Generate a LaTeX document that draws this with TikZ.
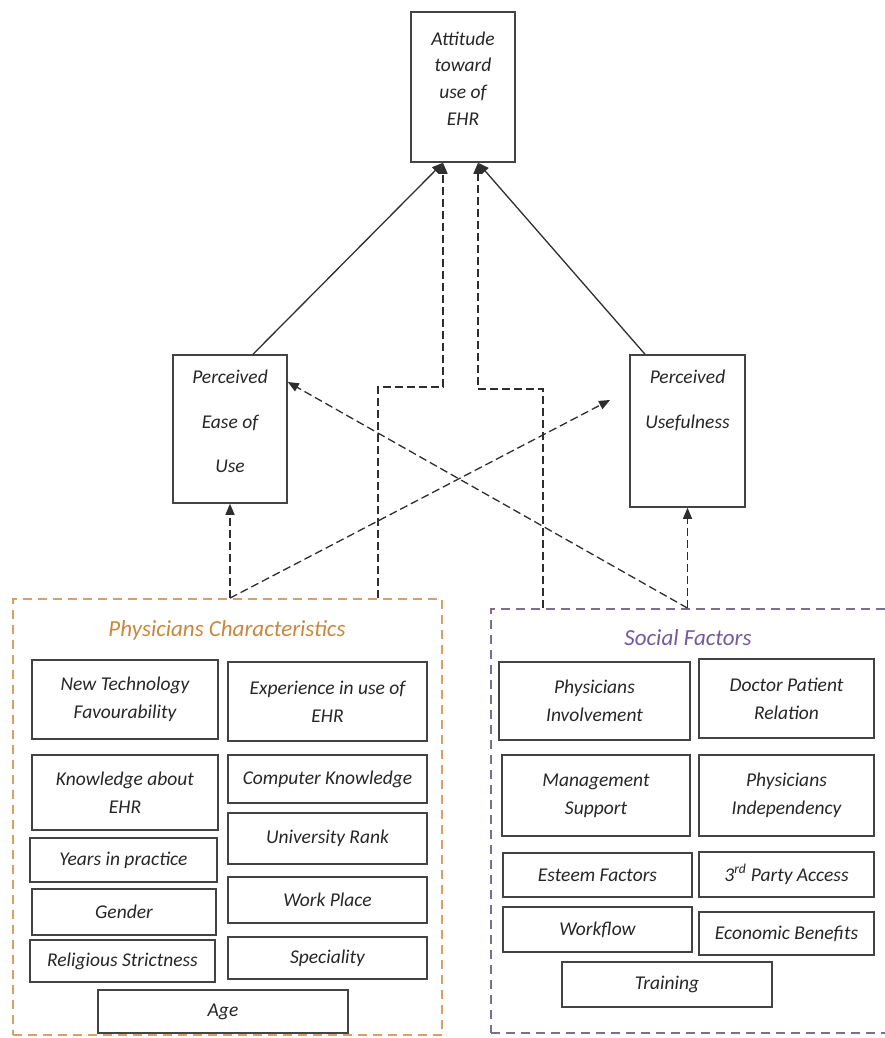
\documentclass[tikz,border=0pt]{standalone}
\usepackage{fontspec}
\setmainfont{Carlito}
\usetikzlibrary{arrows.meta,calc}
\definecolor{frame}{HTML}{434343}
\definecolor{conn}{HTML}{2E2E2E}
\definecolor{boxtxt}{HTML}{262626}
\definecolor{orangeline}{HTML}{D9A062}
\definecolor{orangetxt}{HTML}{C8873E}
\definecolor{purpleline}{HTML}{7C6E92}
\definecolor{purpletxt}{HTML}{76589C}

\begin{document}
\begin{tikzpicture}[x=1pt,y=-1pt,
  sz/.style 2 args={minimum width=#1pt, minimum height=#2pt},
  box/.style={draw=frame, line width=1.5pt, rectangle, inner sep=2pt,
    align=center, text=boxtxt, font=\fontsize{19.5}{28}\selectfont\itshape},
  group/.style={draw=#1, line width=1.8pt, dash pattern=on 9pt off 6pt,
    rectangle, inner sep=0pt},
  title/.style={font=\fontsize{23}{28}\selectfont\itshape, inner sep=0pt},
  dconn/.style={draw=conn, line width=1.3pt, dash pattern=on 8pt off 4pt,
    -{Triangle[length=11pt,width=9pt]}},
  sconn/.style={draw=conn, line width=1.3pt, -{Triangle[length=11pt,width=9pt]}}
]
\useasboundingbox (0,0) rectangle (885,1038);

% model constructs
\node[box, sz={104}{150}, font=\fontsize{19.5}{26.7}\selectfont\itshape,
  text depth=17pt] (att) at (463,87) {Attitude\\toward\\use of\\EHR};
\node[box, sz={114}{148}, font=\fontsize{19.5}{44.5}\selectfont\itshape,
  text depth=15pt] (peou) at (230,429) {Perceived\\Ease of\\Use};
\node[box, sz={115}{152}, font=\fontsize{19.5}{45}\selectfont\itshape,
  text depth=63pt] (pu) at (687.5,431) {Perceived\\Usefulness};

% factor groups
\node[group=orangeline, sz={429}{436}] (phys) at (227.5,817) {};
\node[group=purpleline, sz={420}{424}] (soc) at (701,821) {};
\node[title, text=orangetxt] (physT) at (227,630) {Physicians Characteristics};
\node[title, text=purpletxt] (socT) at (688,638) {Social Factors};

% physicians characteristics
\node[box, sz={186}{79}] (ntf) at (125,699.5) {New Technology\\Favourability};
\node[box, sz={199}{79}] (exp) at (327.5,701.5) {Experience in use of\\EHR};
\node[box, sz={186}{75}] (kae) at (125,792.5) {Knowledge about\\EHR};
\node[box, sz={199}{48}] (ck) at (327.5,779) {Computer Knowledge};
\node[box, sz={199}{51}] (ur) at (327.5,838.5) {University Rank};
\node[box, sz={187}{44}] (yip) at (123.5,860) {Years in practice};
\node[box, sz={184}{46}] (gen) at (124,912) {Gender};
\node[box, sz={199}{46}] (wp) at (327.5,900) {Work Place};
\node[box, sz={185}{42}] (rs) at (122.5,961) {Religious Strictness};
\node[box, sz={199}{42}] (spc) at (327.5,958) {Speciality};
\node[box, sz={250}{43}] (age) at (223,1011.5) {Age};

% social factors
\node[box, sz={191}{78}] (pinv) at (594.5,701) {Physicians\\Involvement};
\node[box, sz={175}{79}] (dpr) at (786.5,698.5) {Doctor Patient\\Relation};
\node[box, sz={188}{81}] (ms) at (596,795.5) {Management\\Support};
\node[box, sz={175}{81}] (pind) at (786.5,795.5) {Physicians\\Independency};
\node[box, sz={189}{44}] (ef) at (597.5,875) {Esteem Factors};
\node[box, sz={175}{45}] (tpa) at (786.5,874.5) {3\textsuperscript{rd} Party Access};
\node[box, sz={189}{45}] (wf) at (597.5,929.5) {Workflow};
\node[box, sz={175}{43}] (eb) at (786.5,933.5) {Economic Benefits};
\node[box, sz={210}{45}] (tr) at (667,984.5) {Training};

% connection points
\coordinate (pA) at (phys.north -| peou.south);
\coordinate (sA) at (soc.north -| pu.south);
\coordinate (pB) at (phys.north -| 378,0);
\coordinate (sB) at (soc.north -| 543,0);
\coordinate (pBend) at (443,387);
\coordinate (sBend) at (478,389);
\coordinate (attL) at (att.south -| 443,0);
\coordinate (attR) at (att.south -| 478,0);
\coordinate (puTip) at (610,400);
\coordinate (peouIn) at ($(peou.east)+(0,-47)$);

% TAM paths
\draw[sconn] (peou.north -| 253,0) -- (attL);
\draw[sconn] (pu.north -| 645,0) -- (attR);

% external factor paths
\draw[dconn] (pA) -- (peou.south);
\draw[dconn] (pA) -- (puTip);
\draw[dconn] (sA) -- (pu.south);
\draw[dconn] (sA) -- (peouIn);
\draw[dconn] (pB) |- (pBend) -- (attL);
\draw[dconn] (sB) |- (sBend) -- (attR);
\end{tikzpicture}
\end{document}
